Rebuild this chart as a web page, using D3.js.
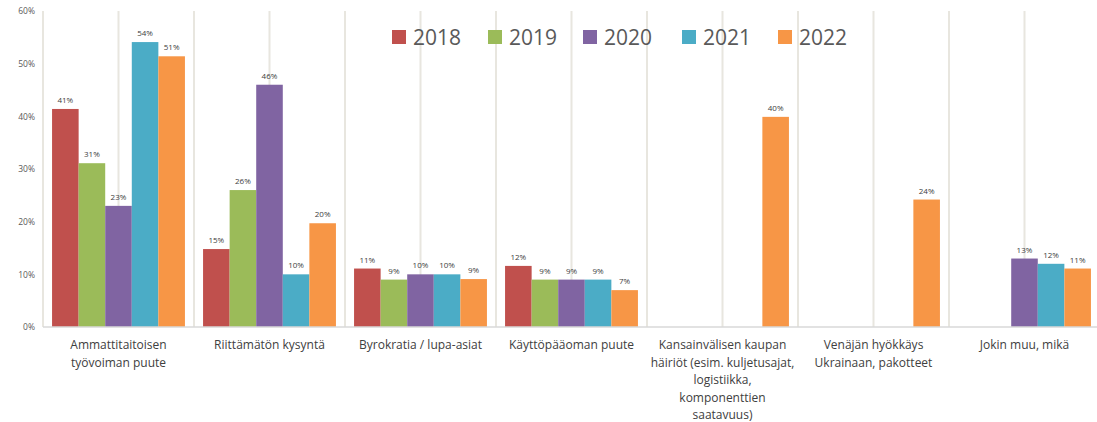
<!DOCTYPE html>
<html><head><meta charset="utf-8">
<script src="https://cdn.jsdelivr.net/npm/d3@7"></script>
<style>
html,body{margin:0;padding:0;background:#fff;}
svg{display:block;}
</style></head>
<body>
<svg id="chart" width="1097" height="422"></svg>
<script>
const categories = [
  ["Ammattitaitoisen", "työvoiman puute"],
  ["Riittämätön kysyntä"],
  ["Byrokratia / lupa-asiat"],
  ["Käyttöpääoman puute"],
  ["Kansainvälisen kaupan", "häiriöt (esim. kuljetusajat,", "logistiikka,", "komponenttien", "saatavuus)"],
  ["Venäjän hyökkäys", "Ukrainaan, pakotteet"],
  ["Jokin muu, mikä"]
];
const years = ["2018", "2019", "2020", "2021", "2022"];
const v2018 = [41.4, 14.8, 11.1, 11.6, null, null, null];
const v2019 = [31.1, 26.0, 9.0, 9.0, null, null, null];
const v2020 = [23.0, 46.0, 10.0, 9.0, null, null, 13.0];
const v2021 = [54.1, 10.0, 10.0, 9.0, null, null, 12.0];
const v2022 = [51.4, 19.7, 9.1, 7.0, 39.9, 24.2, 11.1];
const yTicks = [0, 10, 20, 30, 40, 50, 60];
const colors = ["#c0504d", "#9bbb59", "#8064a2", "#4bacc6", "#f79646"];

const series = [v2018, v2019, v2020, v2021, v2022];
const svg = d3.select("#chart");
const font = "'Open Sans', 'DejaVu Sans', sans-serif";

const mLeft = 43, mRight = 1100, mTop = 11, mBottom = 327;
const catIdx = categories.map((d, i) => i);
const x0 = d3.scaleBand().domain(catIdx).range([mLeft, mRight]).paddingInner(0.12).paddingOuter(0.06);
const x1 = d3.scaleBand().domain(years).range([0, x0.bandwidth()]);
const y = d3.scaleLinear().domain([0, 60]).range([mBottom, mTop]);

// vertical gridlines at category boundaries and centres
const step = x0.step();
const gridX = d3.range(0, categories.length * 2).map(k => mLeft + k * step / 2);
svg.append("g").selectAll("line").data(gridX).join("line")
  .attr("x1", d => d).attr("x2", d => d)
  .attr("y1", y(60)).attr("y2", y(0))
  .attr("stroke", "#e8e6df").attr("stroke-width", 2);

// y axis labels
const yAxis = d3.axisLeft(y).tickValues(yTicks).tickFormat(d => d + "%").tickSize(0).tickPadding(8);
const gy = svg.append("g").attr("transform", `translate(${mLeft},0)`).call(yAxis);
gy.select(".domain").remove();
gy.selectAll("text").attr("font-family", font).attr("font-size", 8.5).attr("fill", "#595959");

// bars
const flat = [];
series.forEach((s, si) => s.forEach((v, ci) => { if (v != null) flat.push({ci, si, v}); }));
svg.append("g").selectAll("rect").data(flat).join("rect")
  .attr("x", d => x0(d.ci) + x1(years[d.si]))
  .attr("width", x1.bandwidth())
  .attr("y", d => y(d.v))
  .attr("height", d => y(0) - y(d.v))
  .attr("fill", d => colors[d.si]);

// baseline axis
svg.append("line").attr("x1", mLeft).attr("x2", 1097).attr("y1", y(0)).attr("y2", y(0))
  .attr("stroke", "#d9d9d9").attr("stroke-width", 1.5);

// value labels
svg.append("g").selectAll("text").data(flat).join("text")
  .attr("x", d => x0(d.ci) + x1(years[d.si]) + x1.bandwidth() / 2)
  .attr("y", d => y(d.v) - 6)
  .attr("text-anchor", "middle")
  .attr("font-family", font).attr("font-size", 8).attr("fill", "#404040")
  .text(d => Math.round(d.v) + "%");

// category labels
const xAxis = d3.axisBottom(x0).tickSize(0).tickFormat(() => "");
const gx = svg.append("g").attr("transform", `translate(0,${mBottom})`).call(xAxis);
gx.select(".domain").remove();
gx.selectAll(".tick").each(function(ci) {
  const t = d3.select(this).append("text")
    .attr("text-anchor", "middle")
    .attr("font-family", font).attr("font-size", 12).attr("fill", "#404040");
  categories[ci].forEach((line, li) => {
    t.append("tspan").attr("x", 0).attr("y", 22 + li * 17.5).text(line);
  });
});

// legend
const legendX = [392, 488, 583, 682, 778];
const lg = svg.append("g");
years.forEach((yr, i) => {
  lg.append("rect").attr("x", legendX[i]).attr("y", 30).attr("width", 14).attr("height", 14).attr("fill", colors[i]);
  lg.append("text").attr("x", legendX[i] + 21).attr("y", 44.5)
    .attr("font-family", font).attr("font-size", 21).attr("fill", "#595959").text(yr);
});
</script>
</body></html>
